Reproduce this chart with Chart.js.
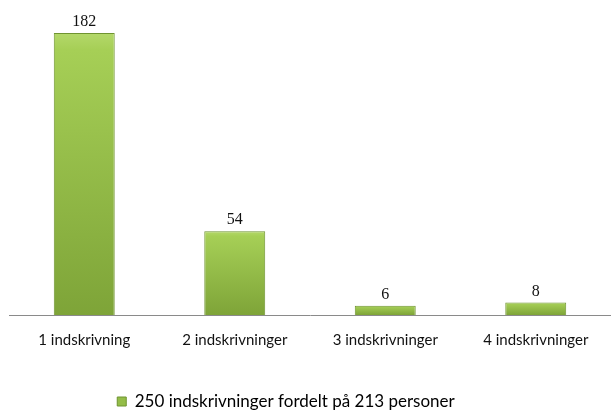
<!DOCTYPE html>
<html>
<head>
<meta charset="utf-8">
<script src="https://cdn.jsdelivr.net/npm/chart.js@4/dist/chart.umd.min.js"></script>
<style>
  html, body { margin: 0; padding: 0; background: #fff; }
</style>
</head>
<body>
<canvas id="bar-chart" width="611" height="410"></canvas>
<script>
const categories = ["1 indskrivning", "2 indskrivninger", "3 indskrivninger", "4 indskrivninger"];
const values = [182, 54, 6, 8];
const seriesLabel = "250 indskrivninger fordelt på 213 personer";

// per-bar vertical gradient, light on top, darker at the base
function barFill(ctx) {
  const chart = ctx.chart;
  const area = chart.chartArea;
  if (!area || ctx.raw === undefined) return "#98c04a";
  const y = chart.scales.y;
  const top = y.getPixelForValue(ctx.raw);
  const bottom = y.getPixelForValue(0);
  const g = chart.ctx.createLinearGradient(0, top, 0, bottom);
  g.addColorStop(0, "#b4d86a");
  g.addColorStop(0.06, "#a6cf56");
  g.addColorStop(1, "#7ea438");
  return g;
}

const valueLabels = {
  id: "valueLabels",
  afterDatasetsDraw(chart) {
    const ctx = chart.ctx;
    const meta = chart.getDatasetMeta(0);
    ctx.save();
    ctx.font = "16px 'Liberation Serif'";
    ctx.fillStyle = "#111";
    ctx.textAlign = "center";
    ctx.textBaseline = "alphabetic";
    meta.data.forEach((bar, i) => {
      ctx.fillText(values[i], bar.x, bar.y - 7);
    });
    ctx.restore();
  }
};

// legend sits a little left of the canvas centre
const legendShift = {
  id: "legendShift",
  afterLayout(chart) {
    chart.legend.left -= 24;
    chart.legend.right -= 24;
  }
};

new Chart(document.getElementById("bar-chart"), {
  type: "bar",
  data: {
    labels: categories,
    datasets: [
      {
        label: seriesLabel,
        data: values,
        backgroundColor: barFill,
        borderColor: "#6f9430",
        borderWidth: 1,
        categoryPercentage: 1,
        barPercentage: 0.405,
      },
    ],
  },
  options: {
    responsive: false,
    animation: false,
    devicePixelRatio: 1,
    layout: { padding: { top: 5, left: 9, right: 0, bottom: -10 } },
    plugins: {
      tooltip: { enabled: false },
      legend: {
        position: "bottom",
        labels: {
          boxWidth: 9,
          boxHeight: 9,
          padding: 4,
          color: "#111",
          font: { family: "Lato", size: 17 },
          generateLabels(chart) {
            return [{
              text: seriesLabel,
              fillStyle: "#94bd48",
              strokeStyle: "#6f9430",
              lineWidth: 1,
              datasetIndex: 0,
            }];
          },
        },
      },
    },
    scales: {
      x: {
        grid: { display: false, drawTicks: false },
        border: { display: true, color: "#8a8a8a", width: 1 },
        ticks: {
          color: "#111",
          padding: 16,
          font: { family: "Lato", size: 15 },
          maxRotation: 0,
        },
        afterFit(scale) { scale.height = 74; },
      },
      y: {
        display: false,
        min: 0,
        max: 200,
      },
    },
  },
  plugins: [valueLabels, legendShift],
});
</script>
</body>
</html>
